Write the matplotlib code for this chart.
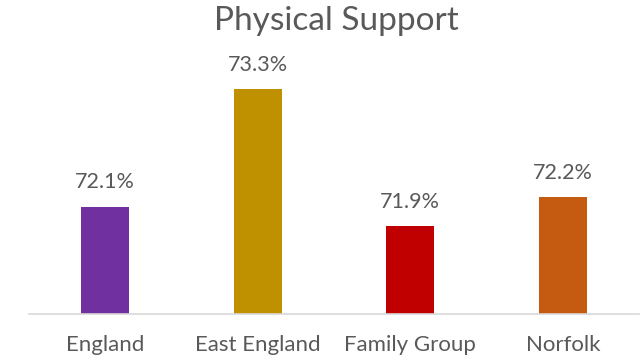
import matplotlib
matplotlib.use("Agg")
import matplotlib.pyplot as plt

categories = ["England", "East England", "Family Group", "Norfolk"]
values = [72.1, 73.3, 71.9, 72.2]
colors = ["#7030A0", "#BF9000", "#C00000", "#C55A11"]

text_col = "#595959"
plt.rcParams['font.family'] = ['Lato', 'DejaVu Sans']

fig = plt.figure(figsize=(6.41, 3.61), dpi=100)
ax = fig.add_axes([29 / 641, 47 / 361, 610 / 641, 254 / 361])

x = list(range(len(categories)))
ax.bar(x, [v - 71.0 for v in values], bottom=71.0, width=0.315, color=colors)
ax.set_xlim(-0.5, 3.5)
ax.set_ylim(71.0, 73.6)

for xi, v in zip(x, values):
    ax.annotate("{:.1f}%".format(v), (xi, v), xytext=(0, 13), textcoords="offset points",
                ha="center", va="baseline", fontsize=15.5, color=text_col)

ax.set_xticks(x)
ax.set_xticklabels(categories, fontsize=16, color=text_col)
ax.tick_params(axis="x", length=0, pad=15)
ax.set_yticks([])
for s in ["top", "right", "left"]:
    ax.spines[s].set_visible(False)
ax.spines["bottom"].set_color("#D9D9D9")
ax.spines["bottom"].set_linewidth(1.2)

fig.text(0.524, 331 / 361, "Physical Support", ha="center", va="baseline",
         fontsize=24, color=text_col)

fig.savefig("out.png", dpi=100)
